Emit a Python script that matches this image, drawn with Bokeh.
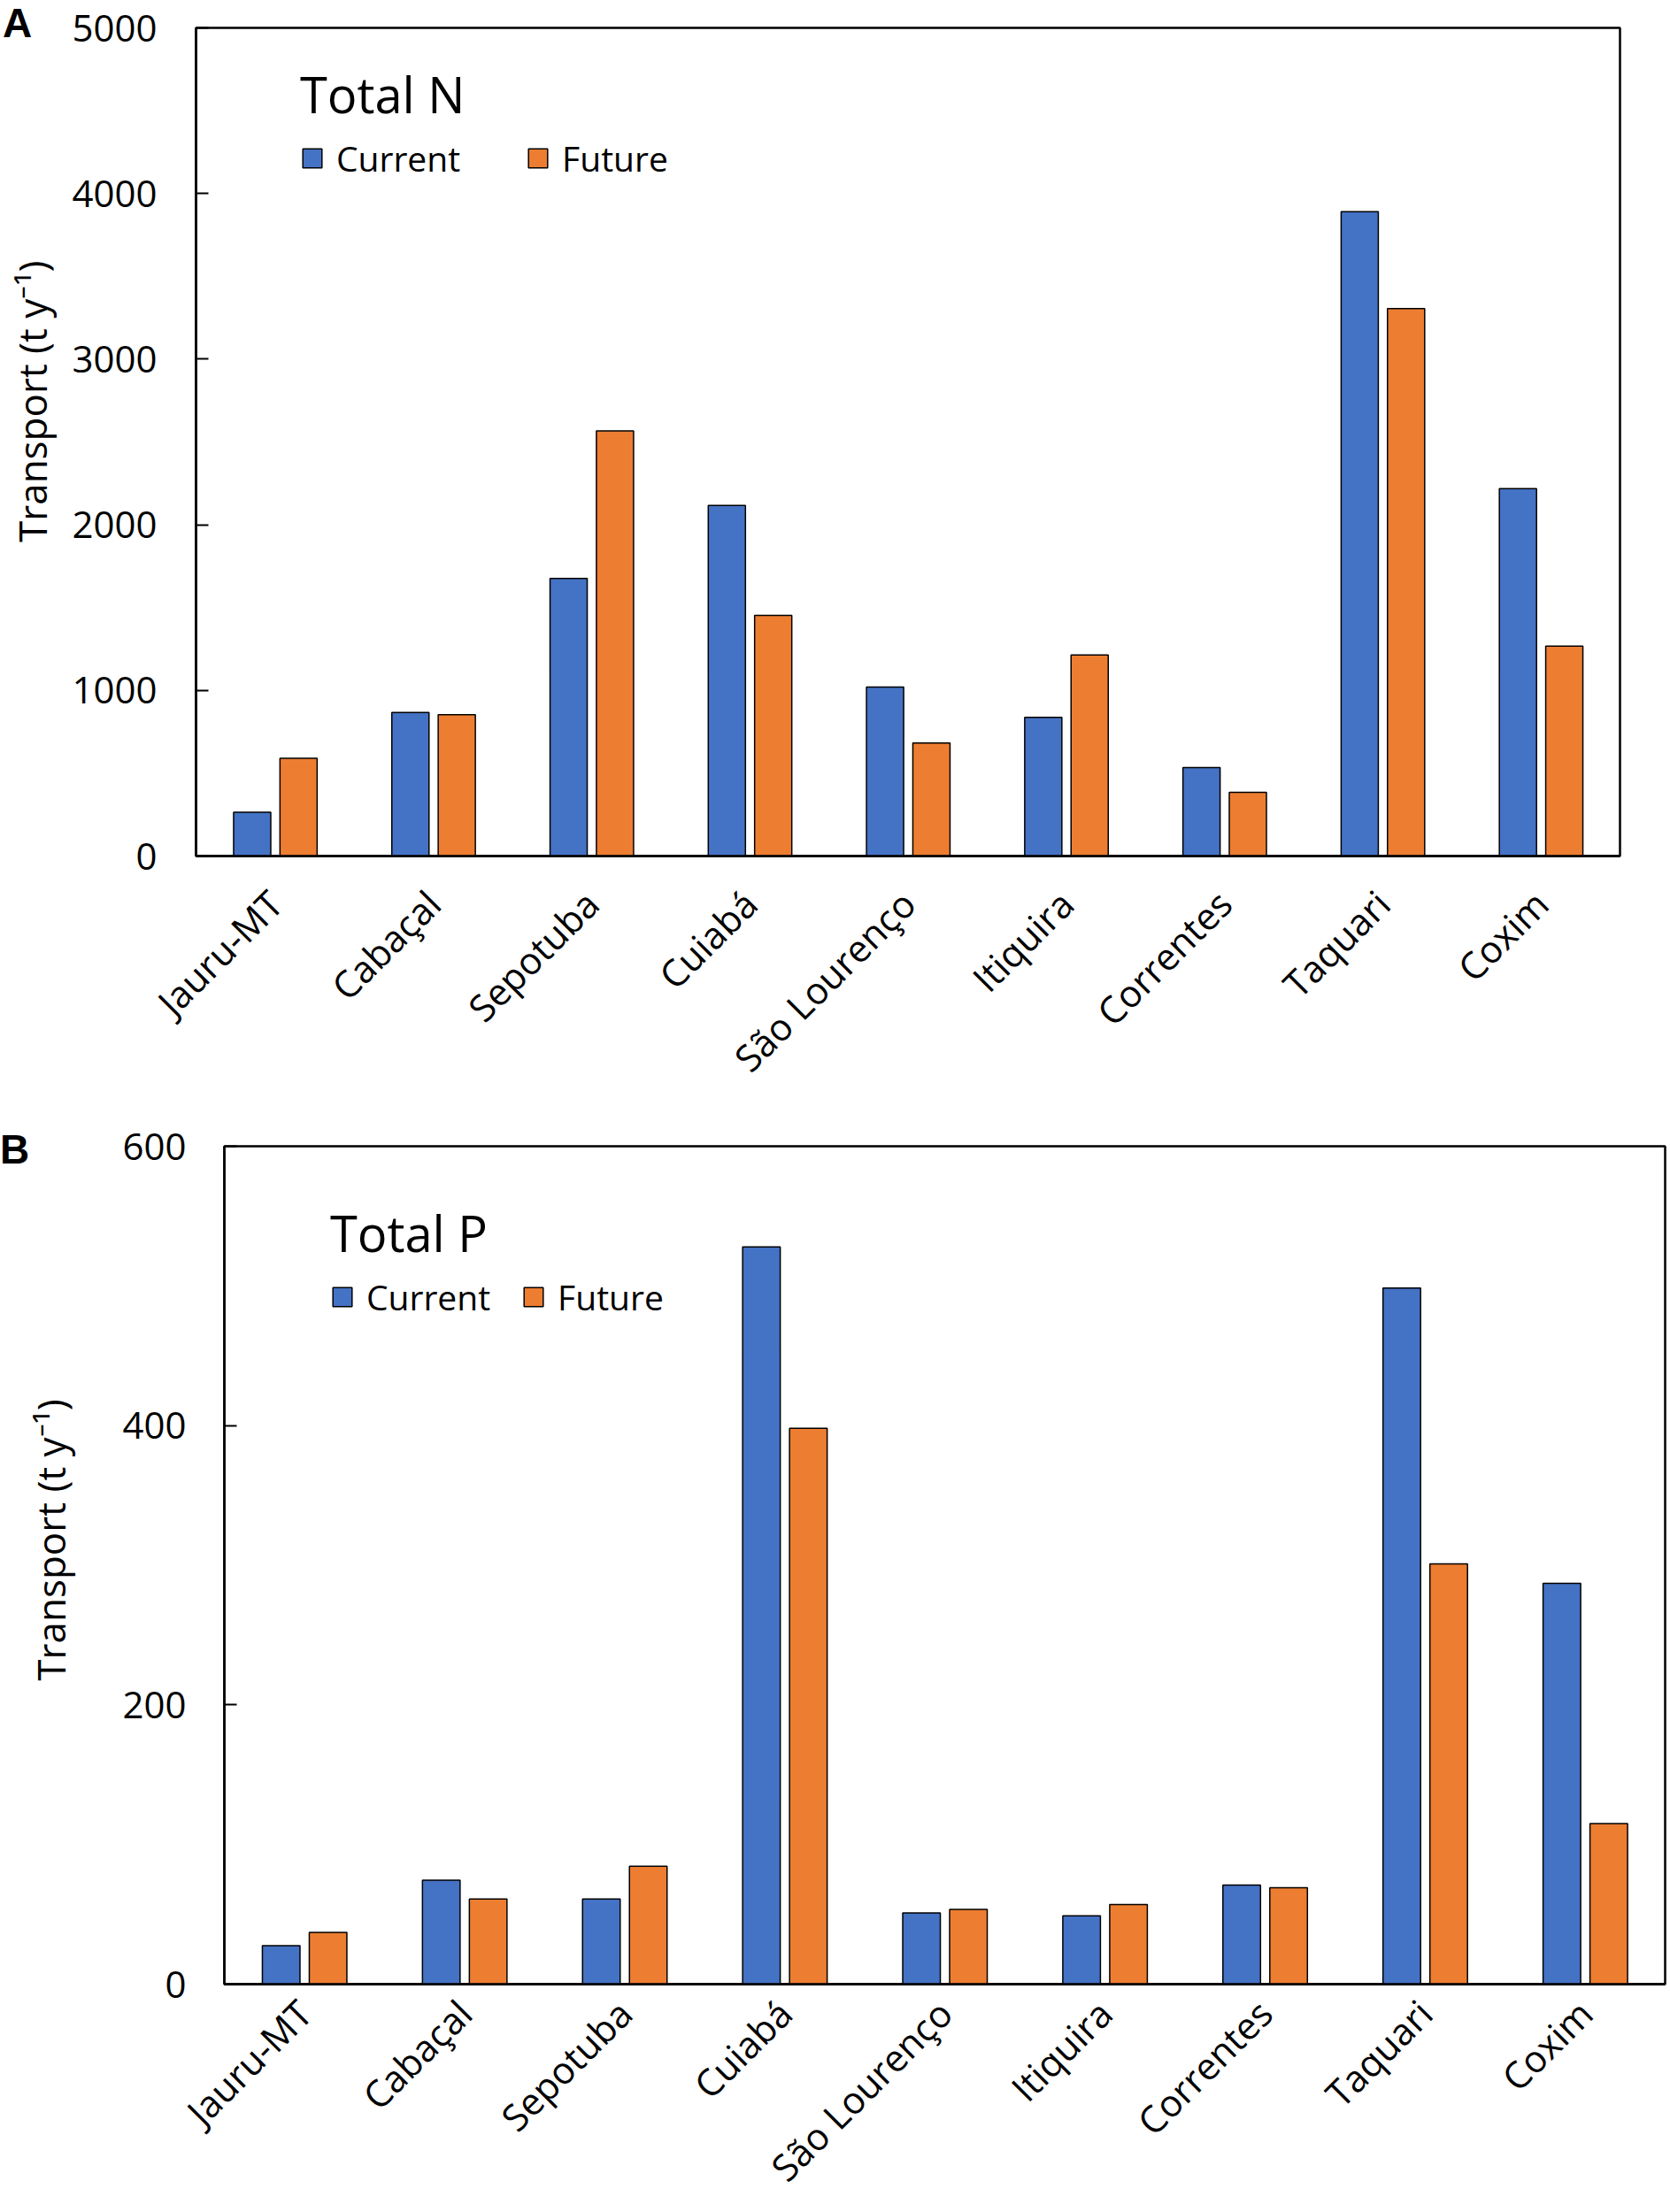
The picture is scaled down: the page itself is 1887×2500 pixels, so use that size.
import math
from bokeh.plotting import figure
from bokeh.models import (ColumnDataSource, FactorRange, Legend, LegendItem, FixedTicker,
                          Range1d, Div)
from bokeh.transform import dodge
from bokeh.embed import file_html
from bokeh.resources import INLINE

rivers = ["Jauru-MT", "Cabaçal", "Sepotuba", "Cuiabá", "São Lourenço",
          "Itiquira", "Correntes", "Taquari", "Coxim"]
n_current = [265, 867, 1676, 2117, 1020, 837, 534, 3890, 2218]
n_future = [590, 854, 2567, 1453, 682, 1214, 385, 3305, 1268]
p_current = [27.5, 74.5, 61, 528, 51, 49, 71, 498.5, 287]
p_future = [37, 61, 84.5, 398, 53.5, 57, 69, 301, 115]
n_ticks = [0, 1000, 2000, 3000, 4000, 5000]
p_ticks = [0, 200, 400, 600]
series_labels = ["Current", "Future"]
y_label = "Transport (t y⁻¹)"

BLUE = "#4472C4"
ORANGE = "#ED7D31"
FONT = "Open Sans"
W = 1887
NBSP = "\u00a0"


def panel(current, future, ticks, ymax, title, height, mb_left, mb_right,
          mb_top, mb_bottom, leg_x, leg_y, leg_spacing, tick_standoff,
          label_standoff, x_standoff, label_pad):
    src = ColumnDataSource(dict(river=rivers, current=current, future=future))
    p = figure(x_range=FactorRange(*rivers), y_range=Range1d(0, ymax),
               width=W, height=height, output_backend="svg", toolbar_location=None,
               min_border_left=mb_left, min_border_right=mb_right,
               min_border_top=mb_top, min_border_bottom=mb_bottom)
    r1 = p.vbar(x=dodge("river", -0.145, range=p.x_range), top="current", width=0.235,
                source=src, fill_color=BLUE, line_color="black", line_width=1.5)
    r2 = p.vbar(x=dodge("river", 0.148, range=p.x_range), top="future", width=0.235,
                source=src, fill_color=ORANGE, line_color="black", line_width=1.5)
    p.xgrid.visible = False
    p.ygrid.visible = False
    p.outline_line_color = "black"
    p.outline_line_width = 2.5
    p.background_fill_color = "white"

    ya = p.yaxis[0]
    ya.ticker = FixedTicker(ticks=ticks)
    ya.major_tick_in = 14
    ya.major_tick_out = 0
    ya.major_tick_line_width = 2
    ya.minor_tick_line_color = None
    ya.axis_line_width = 2.5
    ya.major_label_text_font = FONT
    ya.major_label_text_font_size = "42px"
    ya.major_label_text_color = "black"
    ya.major_label_standoff = tick_standoff
    ya.axis_label = NBSP * label_pad + y_label
    ya.axis_label_text_font = FONT
    ya.axis_label_text_font_size = "44px"
    ya.axis_label_text_font_style = "normal"
    ya.axis_label_text_color = "black"
    ya.axis_label_standoff = label_standoff

    xa = p.xaxis[0]
    xa.major_tick_line_color = None
    xa.minor_tick_line_color = None
    xa.axis_line_width = 2.5
    xa.major_label_orientation = math.pi / 4
    xa.major_label_text_font = FONT
    xa.major_label_text_font_size = "42px"
    xa.major_label_text_color = "black"
    xa.major_label_standoff = x_standoff

    legend = Legend(items=[LegendItem(label=series_labels[0], renderers=[r1]),
                           LegendItem(label=series_labels[1], renderers=[r2])],
                    orientation="horizontal", location=(leg_x, leg_y),
                    title=title, title_text_font=FONT, title_text_font_size="56px",
                    title_text_font_style="normal", title_text_color="black",
                    title_standoff=8,
                    label_text_font=FONT, label_text_font_size="39px",
                    label_text_color="black", label_standoff=14,
                    glyph_width=27, glyph_height=27, spacing=leg_spacing,
                    padding=0, margin=0, border_line_color=None,
                    background_fill_alpha=0)
    p.add_layout(legend)
    return p


def letter(ch, left, top):
    return Div(text=ch, styles={
        "position": "absolute", "left": f"{left}px", "top": f"{top}px",
        "font-family": "'Liberation Sans', Arial, sans-serif", "font-weight": "bold",
        "font-size": "46px", "line-height": "46px", "color": "black",
        "margin": "0px", "padding": "0px", "z-index": "10"})


pa = panel(n_current, n_future, n_ticks, 5000, "Total N", 1246, 221, 57, 31, 279,
           118, 762, 74, 44, 12, 40, 8)
pb = panel(p_current, p_future, p_ticks, 600, "Total P", 1254, 253, 6, 49, 258,
           120, 750, 35, 43, 48, 19, 5)

div_a = letter("A", 3, 3)
div_b = letter("B", 0, 1276)

open("out.html", "w").write(file_html([div_a, pa, div_b, pb], INLINE))
